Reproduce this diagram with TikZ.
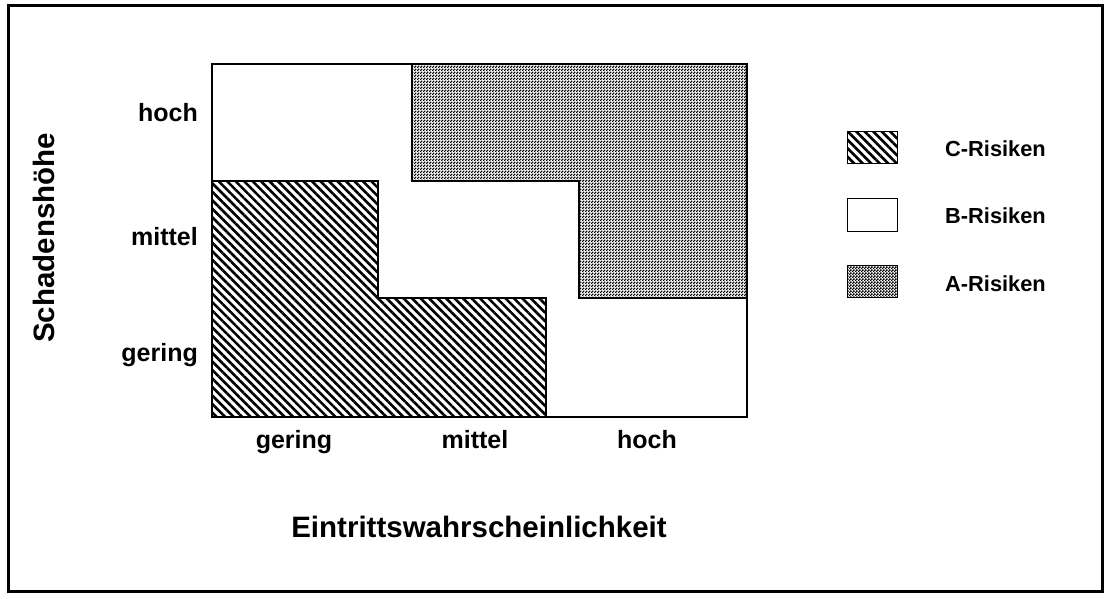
\documentclass[tikz,border=0pt]{standalone}
\usepackage{fontspec}
\setmainfont{Liberation Sans}
\usetikzlibrary{patterns,patterns.meta}
\pgfdeclarepatternformonly{finechecker}{\pgfqpoint{0pt}{0pt}}{\pgfqpoint{3pt}{3pt}}{\pgfqpoint{3pt}{3pt}}{%
  \pgfpathrectangle{\pgfqpoint{0pt}{0pt}}{\pgfqpoint{1.8pt}{1.8pt}}%
  \pgfpathrectangle{\pgfqpoint{1.5pt}{1.5pt}}{\pgfqpoint{1.8pt}{1.8pt}}%
  \pgfusepath{fill}}
\begin{document}
\begin{tikzpicture}[x=1pt,y=-1pt,
  axlbl/.style={font=\fontsize{25}{30}\selectfont\bfseries, inner sep=0pt},
  title/.style={font=\fontsize{29.5}{35}\selectfont\bfseries, inner sep=0pt},
  leglbl/.style={font=\fontsize{21.8}{26}\selectfont\bfseries, inner sep=0pt},
  region/.style={line width=1.5pt},
  chatch/.style={pattern={Lines[angle=-45,distance=6pt,line width=2.6pt]}},
  across/.style={pattern=finechecker},
  legbox/.style={draw, line width=1pt, minimum width=50pt, minimum height=32pt, inner sep=0pt}]
\useasboundingbox (0,0) rectangle (1112,599);
\fill[white] (0,0) rectangle (1112,599);
\draw[line width=3pt] (8,6) rectangle (1102,591);
% C region
\draw[region, chatch] (212,181) -- (378,181) -- (378,298) -- (546,298) -- (546,417) -- (212,417) -- cycle;
% A region
\draw[region, across] (412,64) -- (747,64) -- (747,298) -- (579,298) -- (579,181) -- (412,181) -- cycle;
% main box
\draw[region] (212,64) rectangle (747,417);
% y labels
\node[axlbl, anchor=base east] (yh) at (198,122) {hoch};
\node[axlbl, anchor=base east] (ym) at (198,245) {mittel};
\node[axlbl, anchor=base east] (yg) at (198,361) {gering};
% x labels
\node[axlbl, anchor=base] (xg) at (294,448) {gering};
\node[axlbl, anchor=base] (xm) at (475,448) {mittel};
\node[axlbl, anchor=base] (xh) at (647,448) {hoch};
% titles
\node[title, anchor=base] (xt) at (479,537) {Eintrittswahrscheinlichkeit};
\node[title, anchor=base, rotate=90] (yt) at (54,238) {Schadenshöhe};
% legend
\node[legbox, chatch] (lc) at (872,148) {};
\node[legbox, fill=white] (lb) at (872,215) {};
\node[legbox, across] (la) at (872,281.5) {};
\node[leglbl, anchor=base west] (tc) at (945,157) {C-Risiken};
\node[leglbl, anchor=base west] (tb) at (945,224) {B-Risiken};
\node[leglbl, anchor=base west] (ta) at (945,291) {A-Risiken};
\end{tikzpicture}
\end{document}
